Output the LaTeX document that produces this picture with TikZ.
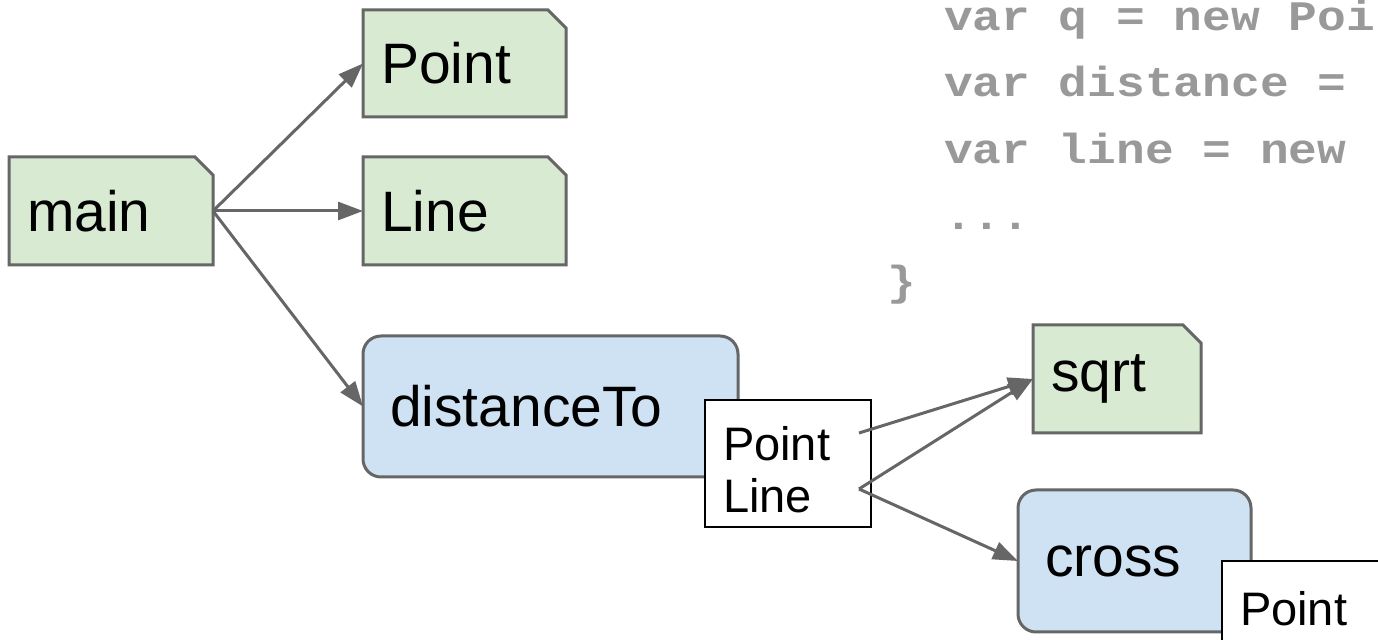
\documentclass[tikz,border=0pt]{standalone}
\usepackage{fontspec}
\setmainfont{Liberation Sans}
\newfontfamily\codefont[FakeStretch=1.14]{Liberation Mono}
\usetikzlibrary{arrows.meta, shapes.misc}
\definecolor{fngreen}{HTML}{D9EAD3}
\definecolor{methblue}{HTML}{CFE2F3}
\definecolor{edgegray}{HTML}{666666}
\definecolor{codegray}{HTML}{999999}

\begin{document}
\begin{tikzpicture}[x=0.5pt,y=-0.5pt,>={Triangle[length=12.5pt,width=9pt]},
  every node/.style={outer sep=0pt,anchor=north west,align=left},
  fnbox/.style={chamfered rectangle,chamfered rectangle corners=north east,chamfered rectangle xsep=4.5pt,chamfered rectangle ysep=4.5pt,draw=edgegray,line width=1.5pt,fill=fngreen,inner xsep=4.5pt,inner ysep=0pt,font=\fontsize{28.5}{32}\selectfont},
  methbox/.style={rectangle,rounded corners=9pt,draw=edgegray,line width=1.5pt,fill=methblue,inner xsep=13.5pt,inner ysep=0pt,font=\fontsize{28.5}{32}\selectfont},
  sigbox/.style={rectangle,draw=black,line width=1pt,fill=white,inner xsep=9pt,inner ysep=0pt,font=\fontsize{23.5}{26}\selectfont},
  call/.style={->,draw=edgegray,line width=1.5pt},
  codeline/.style={anchor=base west,inner sep=0pt,text=codegray,font=\codefont\bfseries\fontsize{21}{24}\selectfont},
%scale: 1 unit = 1 px of the slide
]
\clip (0,0) rectangle (1378,640);

\node [fnbox,minimum width=93pt,minimum height=54pt,text width=84pt] (nMain) at (9,157) {main};
\node [fnbox,minimum width=92.5pt,minimum height=53.5pt,text width=83.5pt] (nPoint) at (363,10) {Point};
\node [fnbox,minimum width=92.5pt,minimum height=54pt,text width=83.5pt] (nLine) at (363,157) {Line};
\node [methbox,minimum width=187.5pt,minimum height=70.5pt,text width=160.5pt] (nDist) at (363,336) {distanceTo};
\node [sigbox,minimum width=83pt,minimum height=63.5pt,text width=65pt] (nDistSig) at (705,400) {\rule{0pt}{23pt}Point\\Line};
\node [fnbox,minimum width=75pt,minimum height=54pt,text width=66pt] (nSqrt) at (1033,325) {sqrt};
\node [methbox,minimum width=116.5pt,minimum height=71pt,text width=89.5pt] (nCross) at (1018,490) {cross};
\node [sigbox,minimum width=85pt,minimum height=48pt,text width=67pt] (nCrossSig) at (1222,561) {Point};

% code on the slide
\node [codeline] (cQ) at (944,31) {var q = new Poi};
\node [codeline] (cDist) at (944,97) {var distance =};
\node [codeline] (cLine) at (944,164) {var line = new};
\node [codeline] (cDots) at (944,230) {...};
\node [codeline] (cEnd) at (887,296) {\}};

\coordinate (pPoint) at ([xshift=-6pt,yshift=-16.5pt]nDistSig.north east);
\coordinate (pLine) at ([xshift=-6pt,yshift=-44.5pt]nDistSig.north east);

\draw [call] (nMain.east) -- (nPoint.west);
\draw [call] (nMain.east) -- (nLine.west);
\draw [call] (nMain.east) -- (nDist.west);
\draw [call] (pPoint) -- (nSqrt.west);
\draw [call] (pLine) -- (nSqrt.west);
\draw [call] (pLine) -- (nCross.west);

\end{tikzpicture}
\end{document}
